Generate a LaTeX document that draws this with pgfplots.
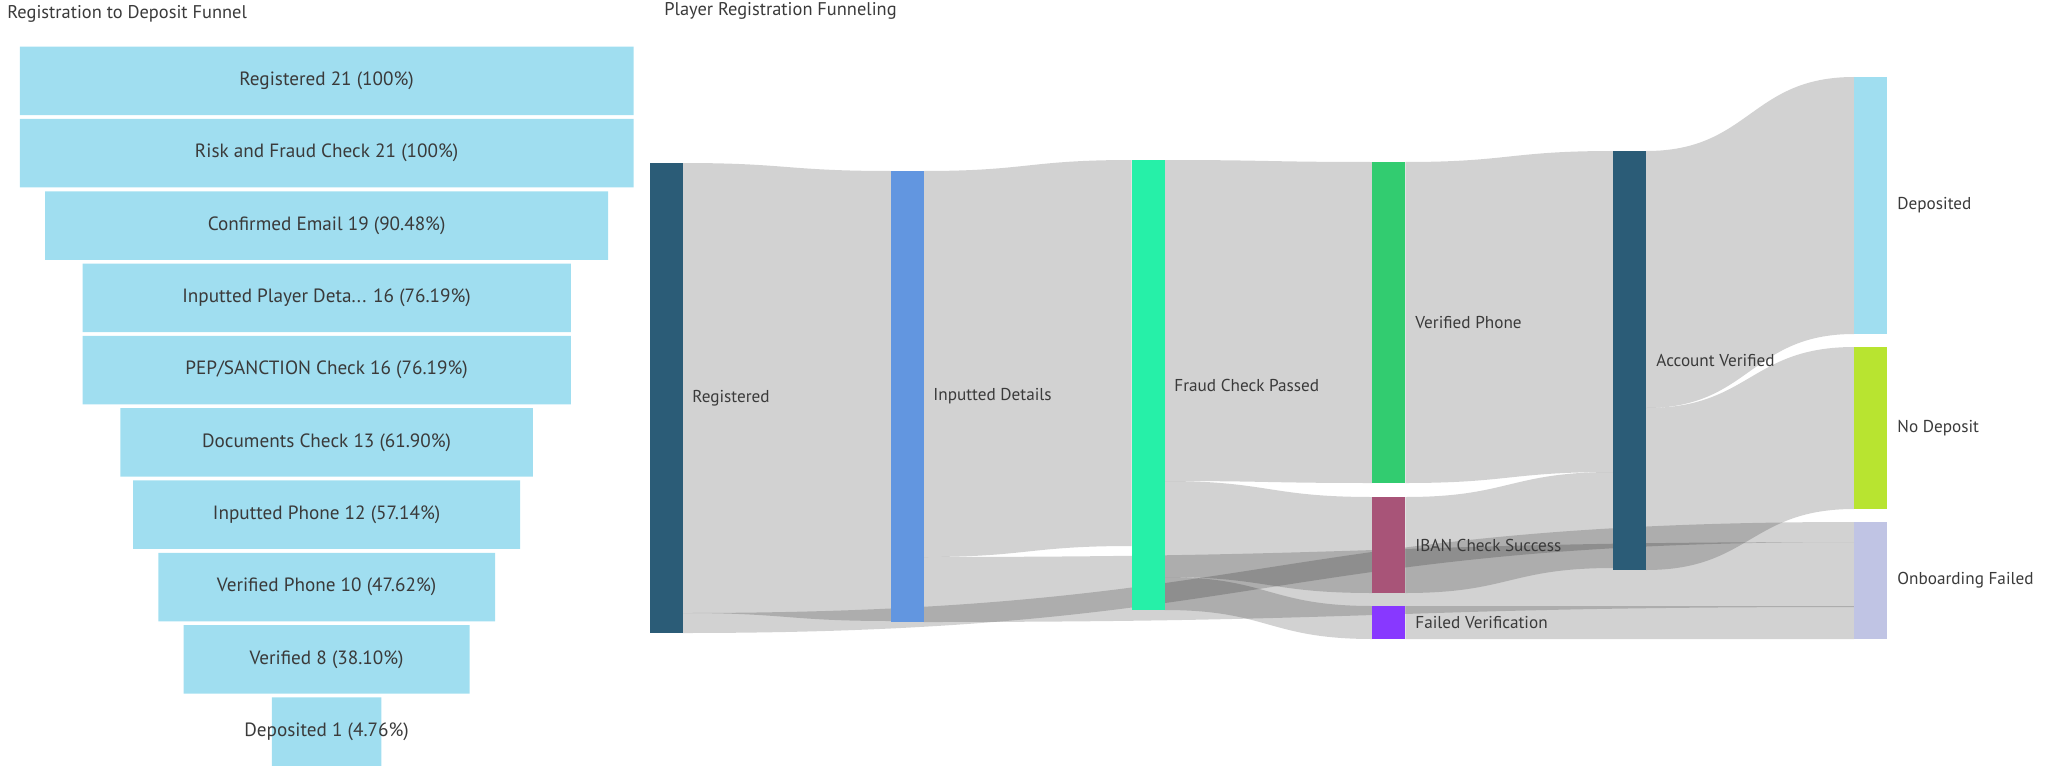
\documentclass[border=0pt]{standalone}
\usepackage{pgfplots}
\pgfplotsset{compat=1.18}
\usepackage{pgfplotstable}
\usepackage{fontspec}
\setmainfont{PT Sans}
\definecolor{txt}{HTML}{3A3A3A}
\definecolor{funnelblue}{HTML}{A0DEF0}
\definecolor{cReg}{HTML}{2B5C77}
\definecolor{cInp}{HTML}{6296E0}
\definecolor{cFCP}{HTML}{26F0A8}
\definecolor{cVP}{HTML}{32CC70}
\definecolor{cIBAN}{HTML}{A85478}
\definecolor{cFV}{HTML}{8838FF}
\definecolor{cDep}{HTML}{A0DEF0}
\definecolor{cND}{HTML}{B8E430}
\definecolor{cOF}{HTML}{C0C4E4}

% funnel: bar centre y, left offset, drawn width, label centre x, label
\pgfplotstableread[col sep=semicolon]{
y;off;w;cx;label
80.9;19.8;613.7;326.6;Registered 21 (100\%)
153.2;19.8;613.7;326.6;Risk and Fraud Check 21 (100\%)
225.5;45.0;563.2;326.6;Confirmed Email 19 (90.48\%)
297.8;82.5;488.3;326.6;Inputted Player Deta... 16 (76.19\%)
370.1;82.5;488.3;326.6;PEP/SANCTION Check 16 (76.19\%)
442.4;120.4;412.5;326.6;Documents Check 13 (61.90\%)
514.7;133.0;387.2;326.6;Inputted Phone 12 (57.14\%)
587.0;158.3;336.7;326.6;Verified Phone 10 (47.62\%)
659.3;183.5;286.2;326.6;Verified 8 (38.10\%)
731.6;271.9;109.4;326.6;Deposited 1 (4.76\%)
}\funnel

% sankey node labels
\pgfplotstableread[col sep=semicolon]{
x;y;label
692;398;Registered
933;396.5;Inputted Details
1174;385;Fraud Check Passed
1415;322.5;Verified Phone
1415;545;IBAN Check Success
1415;622.5;Failed Verification
1656;360.5;Account Verified
1897;205.5;Deposited
1897;428;No Deposit
1897;580.5;Onboarding Failed
}\sanklabels

\pgfplotstableread[col sep=semicolon]{
x;y;label
7;14;Registration to Deposit Funnel
664;11;Player Registration Funneling
}\titles

% ribbon: x0, x1, xmid, top0, bottom0, top1, bottom1
\newcommand\ribbon[7]{%
  \fill[black, fill opacity=0.175]
    (axis cs:#1,#4) .. controls (axis cs:#3,#4) and (axis cs:#3,#6) .. (axis cs:#2,#6)
    -- (axis cs:#2,#7) .. controls (axis cs:#3,#7) and (axis cs:#3,#5) .. (axis cs:#1,#5) -- cycle;}

\pgfplotsset{
  base/.style={at={(0,0)}, anchor=south west, scale only axis,
    width=1024pt, height=390.5pt, xmin=0, xmax=2048, ymin=0, ymax=781,
    y dir=reverse, hide axis, clip=false},
}

\begin{document}
\begin{tikzpicture}
% ---------------- funnel bars
\begin{axis}[base, xbar stacked, bar width=68.5]
\addplot[draw=none, fill=none] table[x=off, y=y] \funnel;
\addplot[draw=none, fill=funnelblue] table[x=w, y=y] \funnel;
\end{axis}
% ---------------- sankey + texts
\begin{axis}[base]
% links
\ribbon{683}{890.8}{786.9}{163}{613}{171}{621}
\ribbon{683}{1854}{1268.5}{613}{633}{522}{542}
\ribbon{923.8}{1131.6}{1027.7}{171}{557}{160}{546}
\ribbon{923.8}{1854}{1388.9}{557}{622}{542}{607}
\ribbon{1164.6}{1372.4}{1268.5}{160}{481}{162}{483}
\ribbon{1164.6}{1372.4}{1268.5}{481}{577}{497}{593}
\ribbon{1164.6}{1372.4}{1268.5}{577}{610}{606}{639}
\ribbon{1405.4}{1613.2}{1509.3}{162}{483}{151}{472}
\ribbon{1405.4}{1613.2}{1509.3}{497}{593}{472}{568}
\ribbon{1405.4}{1854}{1629.7}{606}{639}{606}{639}
\ribbon{1646.2}{1854}{1750.1}{151}{408}{77}{334}
\ribbon{1646.2}{1854}{1750.1}{408}{570}{347}{509}
% nodes
\addplot[draw=none, fill=cReg] coordinates {(650,163) (683,163) (683,633) (650,633)} -- cycle;
\addplot[draw=none, fill=cInp] coordinates {(890.8,171) (923.8,171) (923.8,622) (890.8,622)} -- cycle;
\addplot[draw=none, fill=cFCP] coordinates {(1131.6,160) (1164.6,160) (1164.6,610) (1131.6,610)} -- cycle;
\addplot[draw=none, fill=cVP] coordinates {(1372.4,162) (1405.4,162) (1405.4,483) (1372.4,483)} -- cycle;
\addplot[draw=none, fill=cIBAN] coordinates {(1372.4,497) (1405.4,497) (1405.4,593) (1372.4,593)} -- cycle;
\addplot[draw=none, fill=cFV] coordinates {(1372.4,606) (1405.4,606) (1405.4,639) (1372.4,639)} -- cycle;
\addplot[draw=none, fill=cReg] coordinates {(1613.2,151) (1646.2,151) (1646.2,570) (1613.2,570)} -- cycle;
\addplot[draw=none, fill=cDep] coordinates {(1854,77) (1887,77) (1887,334) (1854,334)} -- cycle;
\addplot[draw=none, fill=cND] coordinates {(1854,347) (1887,347) (1887,509) (1854,509)} -- cycle;
\addplot[draw=none, fill=cOF] coordinates {(1854,522) (1887,522) (1887,639) (1854,639)} -- cycle;
% funnel labels
\addplot[draw=none, mark=none, nodes near coords, point meta=explicit symbolic,
  every node near coord/.append style={anchor=center, inner sep=0pt, text=txt,
  font=\fontsize{9.6}{11}\selectfont}] table[x=cx, y=y, meta=label] \funnel;
% sankey labels
\addplot[draw=none, mark=none, nodes near coords, point meta=explicit symbolic,
  every node near coord/.append style={anchor=west, inner sep=0pt, text=txt,
  font=\fontsize{8.6}{10}\selectfont}] table[x=x, y=y, meta=label] \sanklabels;
% titles
\addplot[draw=none, mark=none, nodes near coords, point meta=explicit symbolic,
  every node near coord/.append style={anchor=west, inner sep=0pt, text=txt,
  font=\fontsize{9.2}{11}\selectfont}] table[x=x, y=y, meta=label] \titles;
\end{axis}
\pgfresetboundingbox
\path (0,0) rectangle (1024pt,390.5pt);
\end{tikzpicture}
\end{document}
